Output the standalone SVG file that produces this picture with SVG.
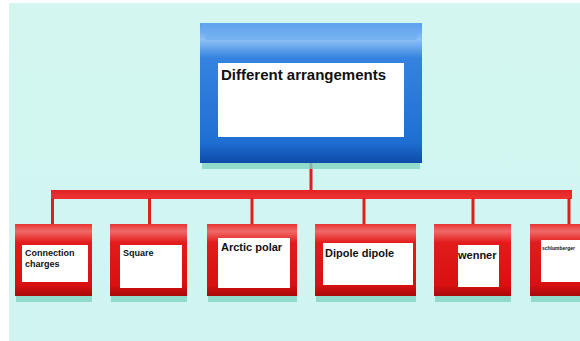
<svg xmlns="http://www.w3.org/2000/svg" width="580" height="341" viewBox="0 0 580 341">
<defs>
<linearGradient id="gBlue" x1="0" y1="0" x2="0" y2="1">
<stop offset="0" stop-color="#4f98ea"/>
<stop offset="0.12" stop-color="#8cc0f5"/>
<stop offset="0.25" stop-color="#3583e0"/>
<stop offset="0.85" stop-color="#1f6fd3"/>
<stop offset="1" stop-color="#0d4aa8"/>
</linearGradient>
<linearGradient id="gRed" x1="0" y1="0" x2="0" y2="1">
<stop offset="0" stop-color="#e63434"/>
<stop offset="0.1" stop-color="#f06a68"/>
<stop offset="0.26" stop-color="#e21b1b"/>
<stop offset="0.85" stop-color="#d81010"/>
<stop offset="1" stop-color="#a80a0a"/>
</linearGradient>
<linearGradient id="gBar" x1="0" y1="0" x2="0" y2="1">
<stop offset="0" stop-color="#e02424"/>
<stop offset="1" stop-color="#f03232"/>
</linearGradient>
<linearGradient id="gBg" x1="0" y1="0" x2="0" y2="1">
<stop offset="0" stop-color="#d3f6f1"/>
<stop offset="1" stop-color="#d0f5f0"/>
</linearGradient>
</defs>
<style>
.lbl{font-family:"Liberation Sans",Arial,sans-serif;font-weight:bold;fill:#111}
.inner{fill:#ffffff}
.shadow{fill:#7fd5c3;opacity:0.8}
.rbox{fill:url(#gRed)}
.conn{stroke:#e01e1e;fill:none}
</style>
<rect x="0" y="0" width="580" height="341" fill="#ffffff"/>
<rect x="9" y="3" width="571" height="338" fill="url(#gBg)"/>
<g id="connectors">
<line class="conn" x1="311" y1="162" x2="311" y2="191" stroke-width="3" stroke="#c41818"/>
<rect x="51" y="190" width="521" height="9" fill="url(#gBar)"/>
<line class="conn" x1="52.5" y1="198" x2="52.5" y2="225" stroke-width="3"/>
<line class="conn" x1="149.5" y1="198" x2="149.5" y2="225" stroke-width="3"/>
<line class="conn" x1="252" y1="198" x2="252" y2="225" stroke-width="3"/>
<line class="conn" x1="364" y1="198" x2="364" y2="225" stroke-width="3"/>
<line class="conn" x1="473" y1="198" x2="473" y2="225" stroke-width="3"/>
<line class="conn" x1="569" y1="198" x2="569" y2="225" stroke-width="3"/>
</g>
<g id="root">
<rect x="202" y="160" width="218" height="9" class="shadow" opacity="0.5"/>
<rect x="200" y="23" width="222" height="140" fill="url(#gBlue)"/>
<polygon points="200,23 422,23 416,40 206,40" fill="#6aaaf0" opacity="0.6"/>
<rect x="218" y="63" width="186" height="74" class="inner"/>
<text x="221" y="80" class="lbl" font-size="15">Different arrangements</text>
</g>
<g id="n1">
<rect x="16" y="294" width="76" height="8" class="shadow"/>
<rect x="15" y="224" width="77" height="72" class="rbox"/>
<rect x="22" y="245" width="66" height="37" class="inner"/>
<text x="25" y="256" class="lbl" font-size="9">Connection</text>
<text x="25" y="267" class="lbl" font-size="9">charges</text>
</g>
<g id="n2">
<rect x="111" y="294" width="76" height="8" class="shadow"/>
<rect x="110" y="224" width="77" height="72" class="rbox"/>
<rect x="120" y="245" width="62" height="43" class="inner"/>
<text x="123" y="256" class="lbl" font-size="9">Square</text>
</g>
<g id="n3">
<rect x="208" y="294" width="89" height="8" class="shadow"/>
<rect x="207" y="224" width="90" height="72" class="rbox"/>
<rect x="218" y="238" width="72" height="50" class="inner"/>
<text x="221" y="251" class="lbl" font-size="11">Arctic polar</text>
</g>
<g id="n4">
<rect x="316" y="294" width="100" height="8" class="shadow"/>
<rect x="315" y="224" width="101" height="72" class="rbox"/>
<rect x="323" y="243" width="90" height="42" class="inner"/>
<text x="325" y="257" class="lbl" font-size="11">Dipole dipole</text>
</g>
<g id="n5">
<rect x="435" y="294" width="76" height="8" class="shadow"/>
<rect x="434" y="224" width="77" height="72" class="rbox"/>
<rect x="458" y="245" width="41" height="42" class="inner"/>
<text x="458" y="259" class="lbl" font-size="11">wenner</text>
</g>
<g id="n6">
<rect x="531" y="294" width="49" height="8" class="shadow"/>
<rect x="530" y="224" width="60" height="72" class="rbox"/>
<rect x="541" y="240" width="45" height="42" class="inner"/>
<text x="542" y="250" class="lbl" font-size="5.5" textLength="33" lengthAdjust="spacingAndGlyphs">schlumberger</text>
</g>
</svg>
